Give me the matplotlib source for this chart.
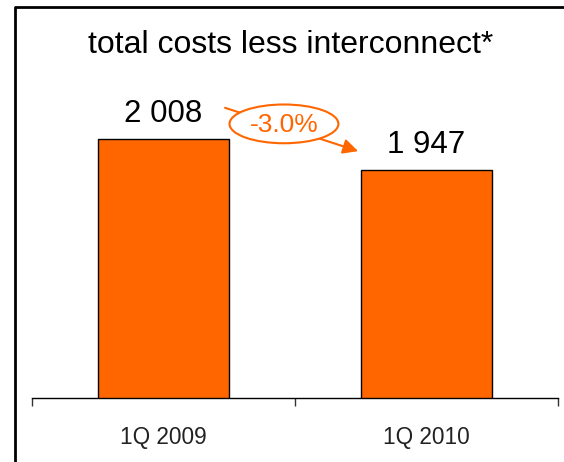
import matplotlib
matplotlib.use("Agg")
import matplotlib.pyplot as plt
from matplotlib.patches import Ellipse
from matplotlib.lines import Line2D

categories = ["1Q 2009", "1Q 2010"]
values = [2008, 1947]
value_labels = ["2 008", "1 947"]
change_label = "-3.0%"
title = "total costs less interconnect*"

ORANGE = "#FF6600"
plt.rcParams['font.family'] = ['Liberation Sans', 'DejaVu Sans']

W, H = 564, 462
fig = plt.figure(figsize=(W / 100, H / 100), dpi=100)
ax = fig.add_axes([32 / W, (H - 398) / H, (558 - 32) / W, 357 / H])

x = list(range(len(categories)))
ax.bar(x, values, width=0.5, color=ORANGE, edgecolor="black", linewidth=1.0, zorder=2)
ax.set_xlim(-0.5, len(categories) - 0.5)
ax.set_ylim(1500, 2200)

for xi, v, lab in zip(x, values, value_labels):
    ax.annotate(lab, (xi, v), xytext=(0, 12), textcoords="offset points",
                ha="center", va="baseline", fontsize=22.5, color="black")

for s in ["left", "right", "top"]:
    ax.spines[s].set_visible(False)
ax.spines["bottom"].set_linewidth(1.0)
ax.set_yticks([])
ax.set_xticks(x)
ax.set_xticklabels(categories, fontsize=16.3, color="#222222")
ax.tick_params(axis="x", which="major", length=0, pad=20)
ax.set_xticks([i - 0.5 for i in range(len(categories) + 1)], minor=True)
ax.tick_params(axis="x", which="minor", length=6, width=1.0, color="#333333", direction="out")

# change annotation arrow
x0, y0 = 0.234, values[0] + 61
x1, y1 = 0.740, values[1] + 37
ax.annotate("", xy=(x1, y1), xytext=(x0, y0),
            arrowprops=dict(arrowstyle="-|>,head_length=0.9,head_width=0.45",
                            color=ORANGE, lw=1.5, shrinkA=0, shrinkB=0),
            zorder=3)
ex, ey = 0.458, (values[0] + values[1]) / 2 + 60
ax.add_patch(Ellipse((ex, ey), 0.414, 76, facecolor="white", edgecolor=ORANGE,
                     linewidth=1.5, zorder=4))
ax.text(ex, ey - 2, change_label, ha="center", va="center", fontsize=19,
        color=ORANGE, zorder=5)

fig.text(291 / W, 1 - 53 / H, title, ha="center", va="baseline", fontsize=23, color="black")

# frame
fig.add_artist(Line2D([15 / W, 15 / W, 1.0], [0.0, 1 - 7 / H, 1 - 7 / H],
                      transform=fig.transFigure, color="black", linewidth=2.0))

fig.savefig("out.png", dpi=100)
